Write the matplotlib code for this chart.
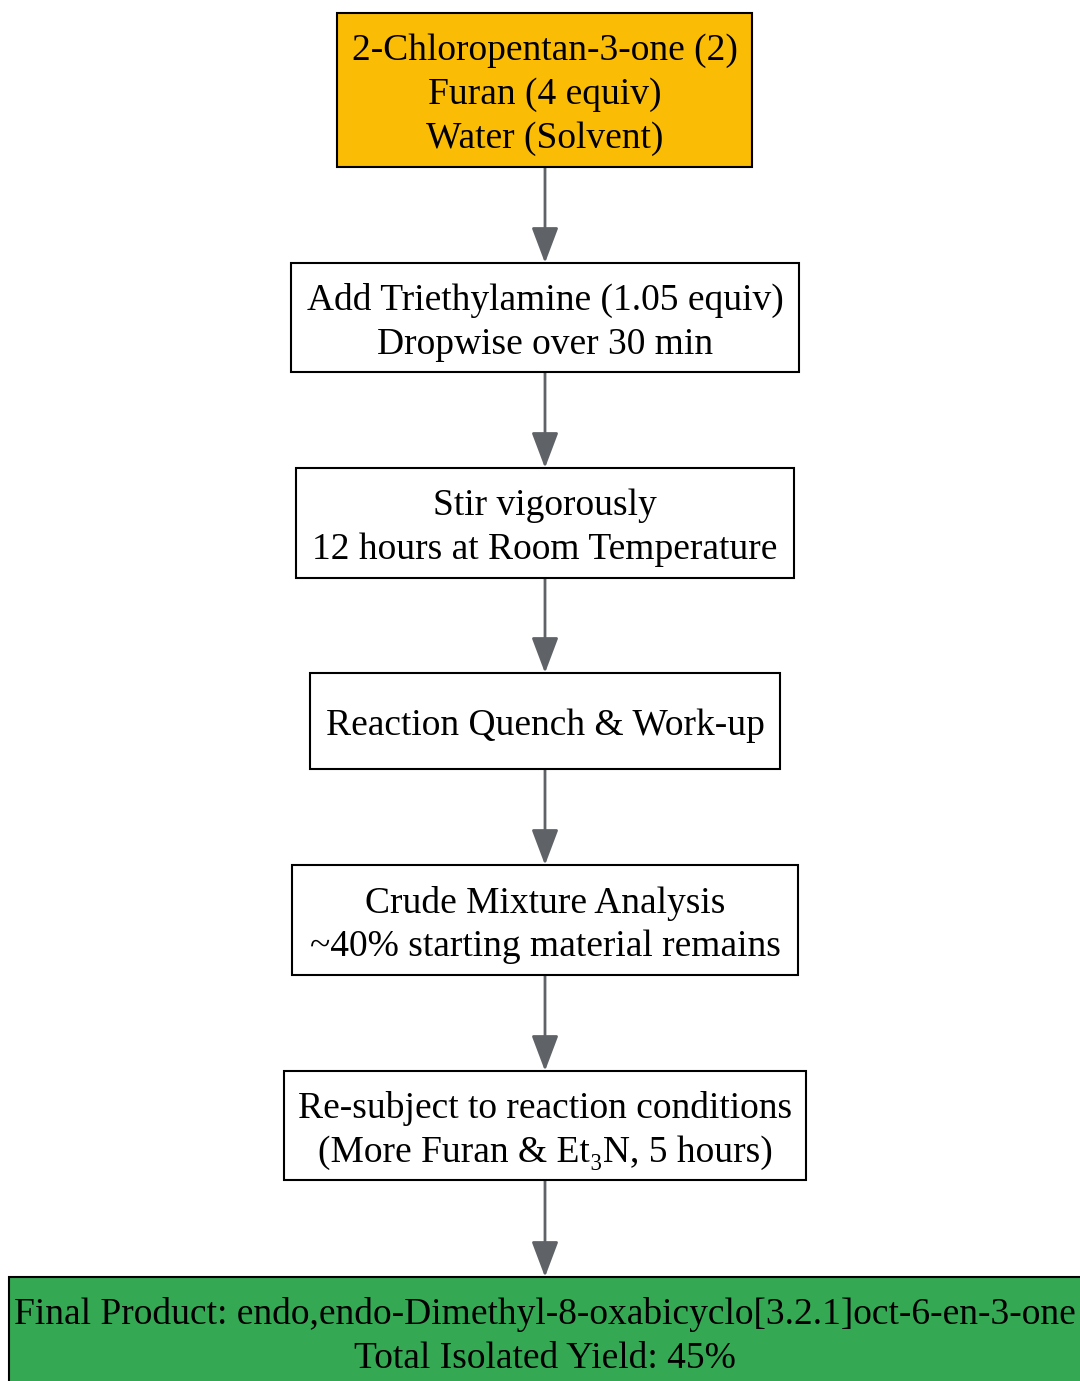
import matplotlib
matplotlib.use("Agg")
import matplotlib.pyplot as plt
from matplotlib.patches import Rectangle, FancyArrowPatch

# flowchart steps (text of each node)
steps = [
    "2-Chloropentan-3-one (2)\nFuran (4 equiv)\nWater (Solvent)",
    "Add Triethylamine (1.05 equiv)\nDropwise over 30 min",
    "Stir vigorously\n12 hours at Room Temperature",
    "Reaction Quench & Work-up",
    "Crude Mixture Analysis\n~40% starting material remains",
    "Re-subject to reaction conditions\n(More Furan & Et\u2083N, 5 hours)",
    "Final Product: endo,endo-Dimethyl-8-oxabicyclo[3.2.1]oct-6-en-3-one\nTotal Isolated Yield: 45%",
]
fills = ["#FBBC05", "white", "white", "white", "white", "white", "#34A853"]

# layout in pixels: left, top, right, bottom
boxes = [
    (337, 13, 752, 167),
    (291, 263, 799, 372),
    (296, 468, 794, 578),
    (310, 673, 780, 769),
    (292, 865, 798, 975),
    (284, 1071, 806, 1180),
    (9, 1277, 1086, 1400),
]

W, H = 1080, 1381
fig = plt.figure(figsize=(W / 100, H / 100), dpi=100)
ax = fig.add_axes([0, 0, 1, 1])
ax.set_xlim(0, W)
ax.set_ylim(H, 0)
ax.axis("off")

fam = ["Liberation Serif", "DejaVu Serif"]
cx = 545

for i, (txt, fc, b) in enumerate(zip(steps, fills, boxes)):
    x0, y0, x1, y1 = b
    ax.add_patch(Rectangle((x0, y0), x1 - x0, y1 - y0, facecolor=fc,
                           edgecolor="black", linewidth=1.5, zorder=2))
    lines = txt.split("\n")
    n = len(lines)
    mid = 1337 if i == 6 else (y0 + y1) / 2 + 5
    for k, ln in enumerate(lines):
        yy = mid + (k - (n - 1) / 2) * 44
        ax.text(cx, yy, ln, ha="center", va="center", fontsize=27,
                family=fam, color="black", zorder=3)

for a, b in zip(boxes[:-1], boxes[1:]):
    arr = FancyArrowPatch((cx, a[3]), (cx, b[1]),
                          arrowstyle="-|>,head_length=22,head_width=8.3",
                          mutation_scale=1, color="#5F6368", linewidth=2,
                          shrinkA=0, shrinkB=0, zorder=1)
    ax.add_patch(arr)

fig.savefig("out.png", dpi=100)
